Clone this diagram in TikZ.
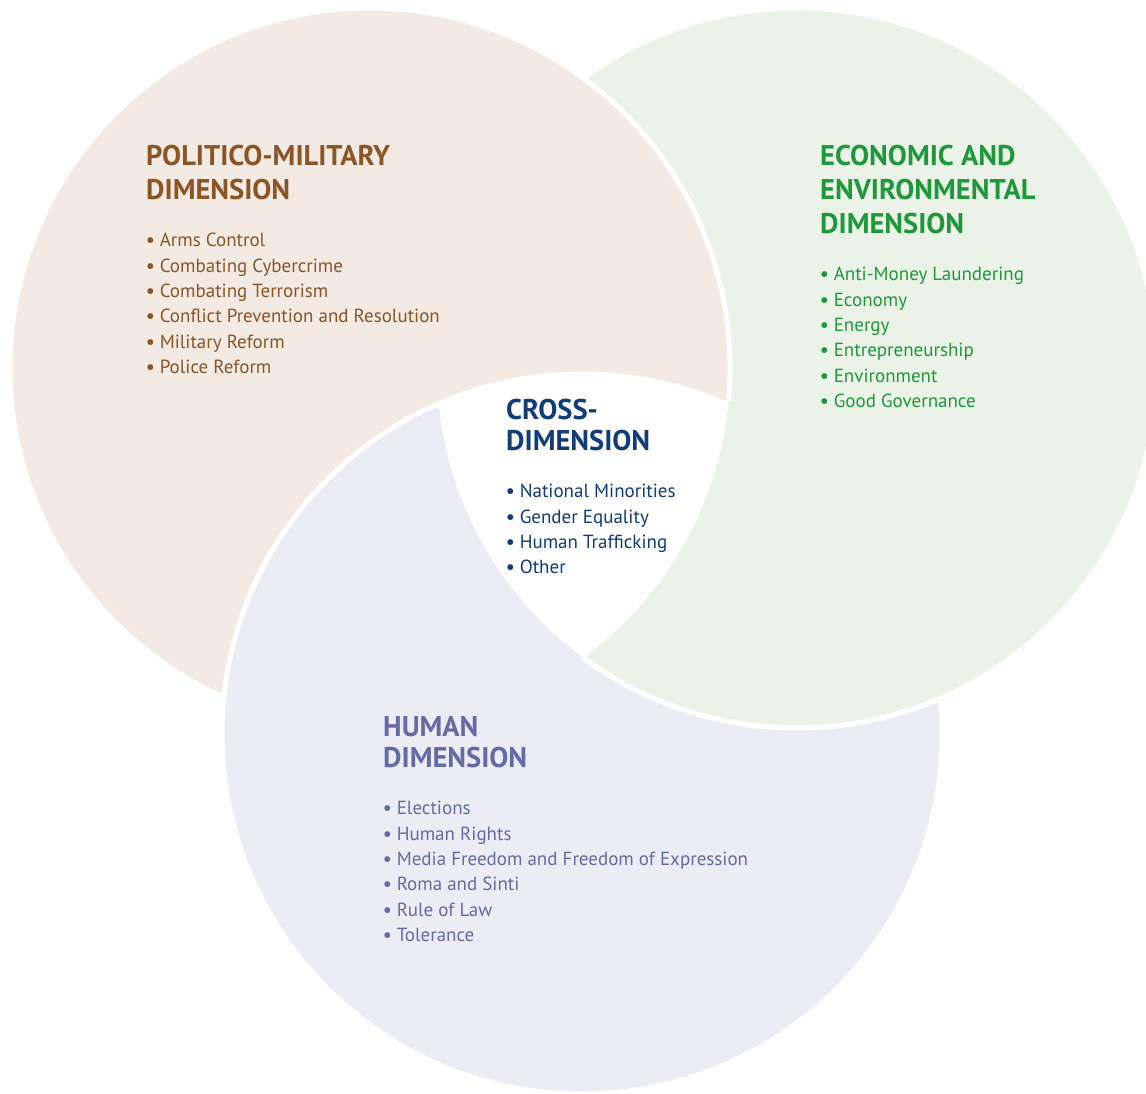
\documentclass[tikz,border=0pt]{standalone}
\usepackage{fontspec}
\setmainfont{PT Sans}
\usetikzlibrary{positioning}

\definecolor{pmfill}{RGB}{243,234,227}
\definecolor{pmtext}{RGB}{139,85,38}
\definecolor{eefill}{RGB}{235,243,232}
\definecolor{eetext}{RGB}{30,152,58}
\definecolor{hdfill}{RGB}{236,236,245}
\definecolor{hdtext}{RGB}{100,108,165}
\definecolor{cdtext}{RGB}{16,60,120}

\newcommand{\itm}{{\bfseries\textbullet}\hspace{5pt}}

\tikzset{
  disc/.style={fill=#1,draw=white,line width=5pt},
  heading/.style={font=\fontsize{28.5}{34}\selectfont\bfseries,align=left,anchor=north west,inner sep=0pt,text=#1},
  items/.style={font=\fontsize{19}{25.4}\selectfont,align=left,anchor=north west,inner sep=0pt,text=#1},
}

\begin{document}
\begin{tikzpicture}[x=1pt,y=-1pt]
\useasboundingbox (0,0) rectangle (1146,1094);
\def\rad{360}
\coordinate (pm) at (370,368);
\coordinate (ee) at (797,368);
\coordinate (hd) at (582,734);

% the three circles
\path[disc=eefill] (ee) circle[radius=\rad];
\path[disc=pmfill] (pm) circle[radius=\rad];
\path[disc=hdfill] (hd) circle[radius=\rad];
% economic circle lies over the human one, outside the politico one
\begin{scope}
\clip (hd) circle[radius=\rad+4];
\begin{scope}[even odd rule]
\clip (-20,-20) rectangle (1200,1200) (pm) circle[radius=\rad];
\path[disc=eefill] (ee) circle[radius=\rad];
\end{scope}
\end{scope}
% centre
\begin{scope}
\clip (pm) circle[radius=\rad];
\clip (ee) circle[radius=\rad];
\fill[white] (hd) circle[radius=\rad];
\end{scope}

% texts
\node[heading=pmtext] (pmhead) at (146,145) {POLITICO-MILITARY\\DIMENSION};
\node[items=pmtext] (pmlist) at (146,233) {\itm Arms Control\\\itm Combating Cybercrime\\\itm Combating Terrorism\\\itm Conflict Prevention and Resolution\\\itm Military Reform\\\itm Police Reform};

\node[heading=eetext] (eehead) at (820,145) {ECONOMIC AND\\ENVIRONMENTAL\\DIMENSION};
\node[items=eetext] (eelist) at (820,267) {\itm Anti-Money Laundering\\\itm Economy\\\itm Energy\\\itm Entrepreneurship\\\itm Environment\\\itm Good Governance};

\node[heading=cdtext,font=\fontsize{28.5}{31}\selectfont\bfseries] (cdhead) at (506,399) {CROSS-\\DIMENSION};
\node[items=cdtext] (cdlist) at (506,484) {\itm National Minorities\\\itm Gender Equality\\\itm Human Trafficking\\\itm Other};

\node[heading=hdtext,font=\fontsize{28.5}{31}\selectfont\bfseries] (hdhead) at (383,716) {HUMAN\\DIMENSION};
\node[items=hdtext] (hdlist) at (383,801) {\itm Elections\\\itm Human Rights\\\itm Media Freedom and Freedom of Expression\\\itm Roma and Sinti\\\itm Rule of Law\\\itm Tolerance};
\end{tikzpicture}
\end{document}
